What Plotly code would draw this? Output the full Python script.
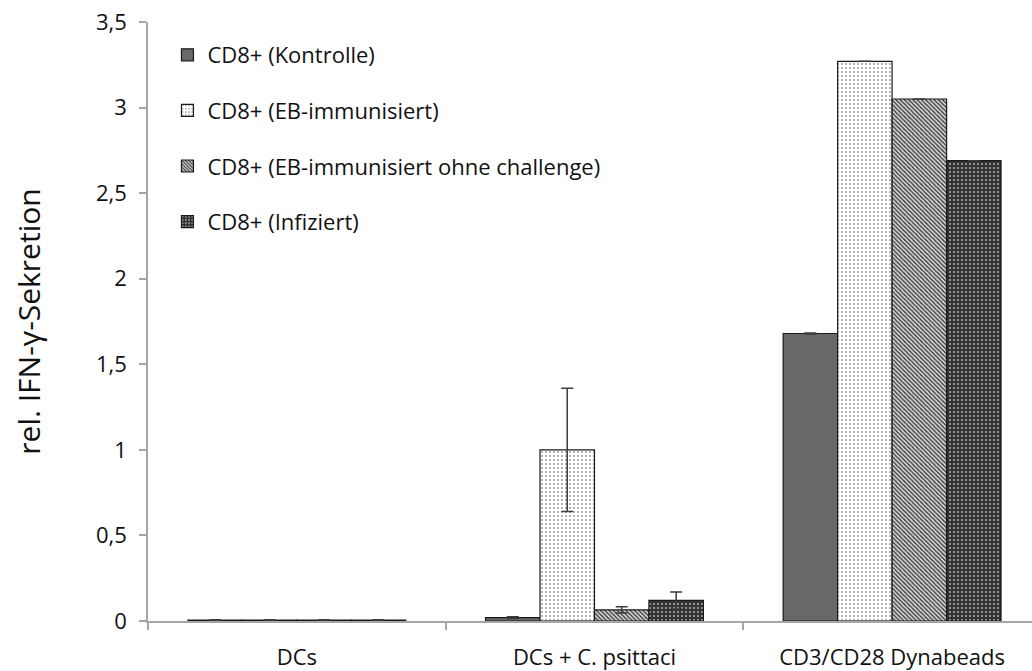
import plotly.graph_objects as go

categories = ["DCs", "DCs + C. psittaci", "CD3/CD28 Dynabeads"]

series_names = [
    "CD8+ (Kontrolle)",
    "CD8+ (EB-immunisiert)",
    "CD8+ (EB-immunisiert ohne challenge)",
    "CD8+ (Infiziert)",
]

kontrolle = [0.005, 0.02, 1.68]
kontrolle_err = [0.002, 0.005, 0.003]

eb_immunisiert = [0.005, 1.0, 3.27]
eb_immunisiert_err = [0.002, 0.36, 0.0]

eb_ohne_challenge = [0.005, 0.065, 3.05]
eb_ohne_challenge_err = [0.002, 0.018, 0.0]

infiziert = [0.005, 0.12, 2.69]
infiziert_err = [0.003, 0.05, 0.0]

y_ticks = [0, 0.5, 1, 1.5, 2, 2.5, 3, 3.5]

FONT = "Open Sans"

patterns = [
    dict(shape="", fillmode="replace"),
    dict(shape=".", fgcolor="#4a4a4a", bgcolor="#ffffff", size=4, solidity=0.12, fillmode="replace"),
    dict(shape="\\", fgcolor="#3a3a3a", bgcolor="#d9d9d9", size=3, solidity=0.45, fillmode="replace"),
    dict(shape=".", fgcolor="#b0b0b0", bgcolor="#333333", size=4, solidity=0.2, fillmode="replace"),
]
colors = ["#686868", "#ffffff", "#8c8c8c", "#3a3a3a"]

values = [kontrolle, eb_immunisiert, eb_ohne_challenge, infiziert]
errors = [kontrolle_err, eb_immunisiert_err, eb_ohne_challenge_err, infiziert_err]

fig = go.Figure()
for i, (name, vals, errs) in enumerate(zip(series_names, values, errors)):
    fig.add_trace(go.Bar(
        name=name,
        x=categories,
        y=vals,
        legendgroup=f"g{i}",
        marker=dict(
            color=colors[i],
            pattern=patterns[i],
            line=dict(color="#1a1a1a", width=1.2),
        ),
        error_y=dict(
            type="data",
            array=errs,
            visible=True,
            color="#3c3c3c",
            thickness=1.5,
            width=6,
        ),
    ))

fig.update_layout(
    width=1032,
    height=671,
    margin=dict(l=148, r=0, t=22, b=46),
    paper_bgcolor="white",
    plot_bgcolor="white",
    separators=",.",
    barmode="group",
    bargap=0.268,
    bargroupgap=0,
    font=dict(family=FONT, color="#111111", size=22),
    legend=dict(
        x=0.022,
        y=0.98,
        xanchor="left",
        yanchor="top",
        bgcolor="rgba(0,0,0,0)",
        font=dict(family=FONT, size=22, color="#111111"),
        tracegroupgap=24,
        traceorder="grouped",
        itemwidth=30,
    ),
    xaxis=dict(
        range=[-0.5, 2.47],
        showline=True,
        linecolor="#a6a6a6",
        linewidth=1.5,
        ticks="outside",
        tickson="boundaries",
        ticklen=7,
        tickcolor="#a6a6a6",
        tickwidth=1.5,
        ticklabelstandoff=16,
        tickfont=dict(family=FONT, size=22, color="#111111"),
        showgrid=False,
        zeroline=False,
    ),
    yaxis=dict(
        range=[0, 3.5],
        tickvals=y_ticks,
        showline=True,
        linecolor="#a6a6a6",
        linewidth=1.5,
        ticks="outside",
        ticklen=7,
        tickcolor="#a6a6a6",
        tickwidth=1.5,
        ticklabelstandoff=8,
        tickfont=dict(family=FONT, size=22, color="#111111"),
        showgrid=False,
        zeroline=False,
        title=dict(
            text="rel. IFN-γ-Sekretion",
            font=dict(family=FONT, size=30, color="#111111"),
            standoff=46,
        ),
    ),
)

fig.write_html("out.html")
